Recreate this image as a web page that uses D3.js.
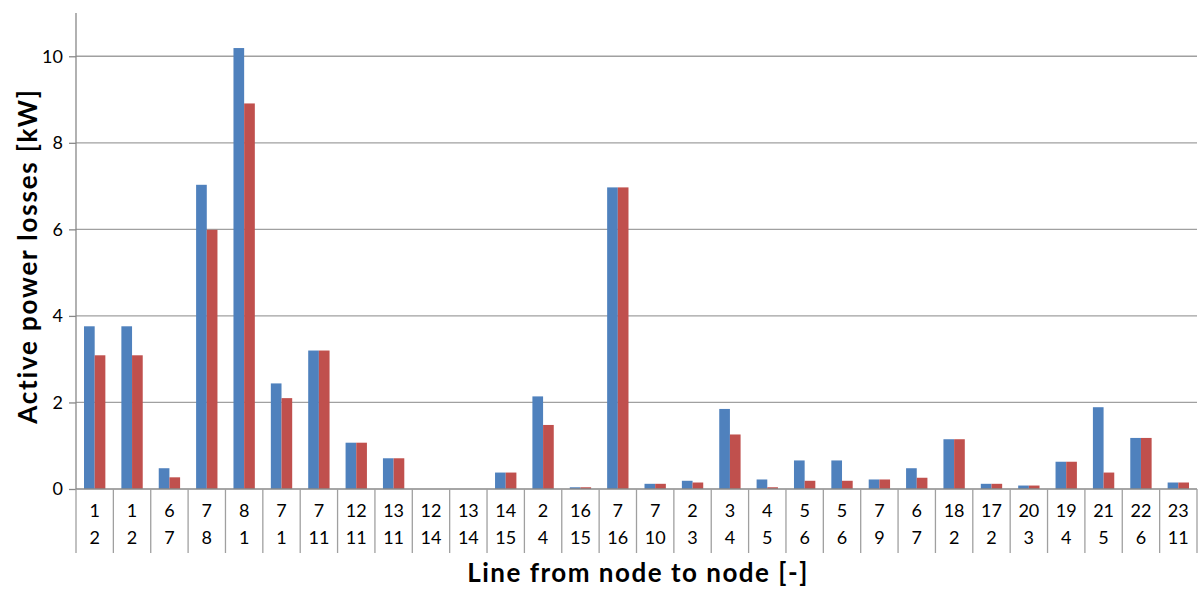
<!DOCTYPE html>
<html>
<head>
<meta charset="UTF-8">
<title>Active power losses</title>
<style>
    body { margin: 0; background: #fff; }
    svg text { font-family: Lato, 'Open Sans', sans-serif; fill: #000; }
</style>
</head>
<body>
<svg id="chart" width="1200" height="594"></svg>
<script src="https://d3js.org/d3.v7.min.js"></script>
<script>
// line endpoints (from node / to node)
const fromNode = ["1","1","6","7","8","7","7","12","13","12","13","14","2","16","7","7","2","3","4","5","5","7","6","18","17","20","19","21","22","23"];
const toNode   = ["2","2","7","8","1","1","11","11","11","14","14","15","4","15","16","10","3","4","5","6","6","9","7","2","2","3","4","5","6","11"];

// active power losses [kW]
const lossesA = [3.76,3.76,0.48,7.03,10.19,2.44,3.20,1.07,0.71,0,0,0.38,2.14,0.04,6.97,0.12,0.19,1.85,0.22,0.66,0.66,0.22,0.48,1.15,0.12,0.08,0.63,1.89,1.18,0.15];
const lossesB = [3.09,3.09,0.27,5.99,8.91,2.10,3.20,1.07,0.71,0,0,0.38,1.48,0.04,6.97,0.12,0.15,1.26,0.04,0.19,0.19,0.22,0.26,1.15,0.12,0.08,0.63,0.38,1.18,0.15];

const yTicks = [0, 2, 4, 6, 8, 10];

const svg = d3.select("#chart");
const margin = {top: 13, right: 3, bottom: 105, left: 76};
const W = 1200 - margin.left - margin.right;
const H = 594 - margin.top - margin.bottom;
const g = svg.append("g").attr("transform", `translate(${margin.left},${margin.top})`);

const idx = d3.range(fromNode.length);
const x = d3.scaleBand().domain(idx).range([0, W]);
const bw = x.bandwidth() / 3.5;   // gap width 150%
const xs = d3.scaleBand().domain(["a","b"]).range([bw * 0.75, bw * 2.75]);
const y = d3.scaleLinear().domain([0, 11]).range([H, 0]);

// gridlines
g.append("g")
    .selectAll("line")
    .data(yTicks.filter(t => t > 0))
    .join("line")
    .attr("x1", 0).attr("x2", W)
    .attr("y1", d => y(d)).attr("y2", d => y(d))
    .attr("stroke", "#a0a0a0").attr("stroke-width", 1.3);

// bars
const series = [{key: "a", vals: lossesA, color: "#4f81bd"}, {key: "b", vals: lossesB, color: "#c0504d"}];
series.forEach(s => {
    g.append("g")
        .selectAll("rect")
        .data(idx)
        .join("rect")
        .attr("x", i => x(i) + xs(s.key))
        .attr("width", xs.bandwidth())
        .attr("y", i => y(s.vals[i]))
        .attr("height", i => H - y(s.vals[i]))
        .attr("fill", s.color);
});

// y axis
const yAxis = g.append("g")
    .call(d3.axisLeft(y).tickValues(yTicks).tickSize(7).tickPadding(6));
yAxis.select(".domain").attr("stroke", "#888").attr("stroke-width", 1.3)
    .attr("d", `M0,0V${H}`);
yAxis.selectAll(".tick line").attr("stroke", "#888").attr("stroke-width", 1.3);
yAxis.selectAll(".tick text").attr("font-size", 18).attr("font-family", "Lato, sans-serif").attr("fill", "#000");

// x axis baseline and category separators
g.append("line")
    .attr("x1", 0).attr("x2", W).attr("y1", H).attr("y2", H)
    .attr("stroke", "#888").attr("stroke-width", 1.3);
g.append("g")
    .selectAll("line")
    .data(d3.range(fromNode.length + 1))
    .join("line")
    .attr("x1", i => i < fromNode.length ? x(i) : W)
    .attr("x2", i => i < fromNode.length ? x(i) : W)
    .attr("y1", H).attr("y2", H + 64)
    .attr("stroke", "#a0a0a0").attr("stroke-width", 1.3);

// two-row category labels
const lab = g.append("g").attr("font-size", 18).attr("text-anchor", "middle");
lab.selectAll("text.from")
    .data(idx).join("text").attr("class", "from")
    .attr("x", i => x(i) + x.bandwidth() / 2).attr("y", H + 28)
    .text(i => fromNode[i]);
lab.selectAll("text.to")
    .data(idx).join("text").attr("class", "to")
    .attr("x", i => x(i) + x.bandwidth() / 2).attr("y", H + 55)
    .text(i => toNode[i]);

// axis titles
svg.append("text")
    .attr("transform", "translate(37,256) rotate(-90)")
    .attr("text-anchor", "middle").attr("font-size", 26).attr("font-weight", "bold")
    .attr("letter-spacing", 1.8)
    .text("Active power losses [kW]");
svg.append("text")
    .attr("x", 638).attr("y", 582)
    .attr("text-anchor", "middle").attr("font-size", 26).attr("font-weight", "bold")
    .attr("letter-spacing", 1.5)
    .text("Line from node to node [-]");
</script>
</body>
</html>
